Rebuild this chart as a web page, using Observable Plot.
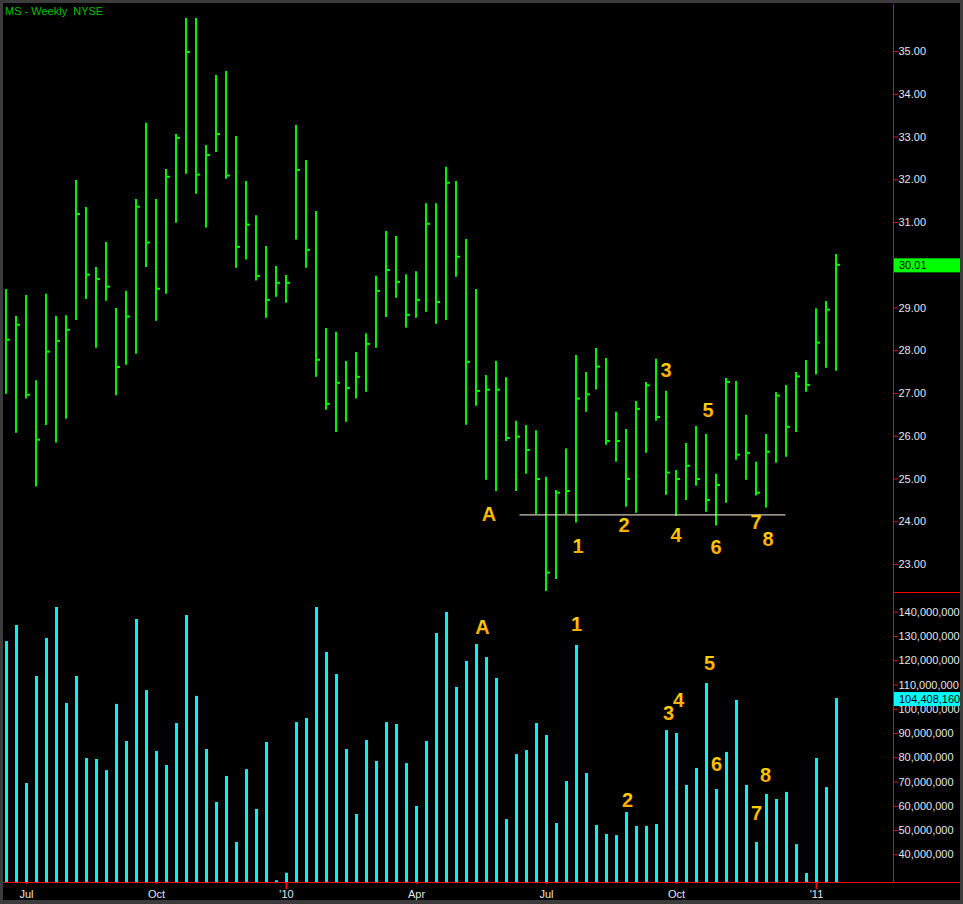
<!DOCTYPE html>
<html><head><meta charset="utf-8">
<script src="https://cdn.jsdelivr.net/npm/d3@7"></script>
<script src="https://cdn.jsdelivr.net/npm/@observablehq/plot@0.6"></script>
<style>
html,body{margin:0;padding:0;background:#3c3c3c;width:963px;height:904px;overflow:hidden;}
#frame{position:absolute;left:3px;top:3px;width:957px;height:897px;background:#000;}
.abs{position:absolute;left:0;}
#title{position:absolute;left:5px;top:5px;font:11px "Liberation Sans",Arial,sans-serif;color:#00c000;white-space:pre;line-height:13px;}
.line{position:absolute;background:#ff0000;}
</style></head><body>
<div id="frame"></div>
<div id="price" class="abs" style="top:0"></div>
<div id="volume" class="abs" style="top:592px"></div>
<div class="line" style="left:893px;top:4px;width:1px;height:878px"></div>
<div class="line" style="left:893px;top:592px;width:67px;height:1px"></div>
<div class="line" style="left:3px;top:882px;width:957px;height:1px"></div>
<div id="title">MS - Weekly  NYSE</div>
<script>
// ---- weekly OHLC (high / low / close), Jun 2009 – Jan 2011 ----
const highs = [29.43,28.80,29.29,27.30,29.32,28.80,28.82,31.98,31.35,29.95,30.53,28.99,29.39,31.54,33.32,31.54,32.24,33.06,35.77,35.77,
  32.80,34.44,34.53,33.01,31.96,31.16,30.44,29.97,29.76,33.27,32.45,31.26,28.52,28.43,27.75,27.96,28.40,29.74,30.79,30.67,
  29.78,29.85,31.44,31.44,32.29,31.96,30.60,29.43,27.42,27.75,27.37,26.35,26.25,26.13,25.04,24.73,25.70,27.89,27.49,28.05,
  27.82,26.56,26.16,26.81,27.26,27.80,27.05,25.20,25.83,26.23,26.04,25.11,27.35,27.28,26.49,25.39,26.04,27.02,27.19,27.49,
  27.77,28.98,29.15,30.25];
const lows = [26.98,26.07,26.87,24.81,26.25,25.84,26.40,28.71,29.20,28.06,29.16,26.95,27.66,27.92,29.95,28.69,29.32,30.98,32.13,31.66,
  30.87,32.64,32.01,29.93,30.12,29.63,28.76,29.25,29.11,30.59,29.93,27.38,26.61,26.09,26.33,26.87,27.03,28.06,28.78,29.23,
  28.53,28.76,28.90,28.62,28.71,29.72,26.26,26.70,24.97,24.71,25.88,24.71,25.11,24.17,22.37,22.65,24.17,23.97,26.56,27.08,
  25.79,25.39,24.34,24.20,25.60,26.35,24.62,24.13,24.50,24.83,24.22,23.90,24.43,25.44,24.97,24.60,24.32,25.37,25.51,26.09,
  27.03,27.43,27.59,27.52];
const closes = [28.26,28.61,26.97,25.92,27.98,28.23,28.49,31.20,29.78,29.68,29.50,27.62,28.80,31.37,30.53,29.45,32.07,32.98,34.99,32.12,
  32.58,33.07,32.10,30.43,30.95,29.75,29.19,29.59,29.59,32.23,30.36,27.79,26.76,27.25,27.13,27.39,28.16,29.40,29.89,29.61,
  28.84,29.19,30.97,29.14,31.93,30.20,27.74,27.06,27.09,27.09,25.96,25.99,25.68,25.00,22.81,24.68,24.72,26.88,26.98,27.63,
  25.89,25.89,25.00,26.64,27.19,26.45,25.15,25.00,25.31,25.00,24.51,24.86,27.27,25.57,25.61,24.68,25.64,26.95,26.22,27.40,
  27.20,28.19,28.96,30.01];
// weekly volume, millions of shares
const volumes = [127.9,134.5,69.4,113.5,129.2,141.9,102.4,113.5,79.7,79.3,74.7,102.0,86.7,137.0,107.7,82.6,76.8,94.1,138.6,105.3,
  83.4,61.6,72.3,45.1,75.1,58.7,86.3,29.3,32.4,94.5,96.2,141.9,123.4,114.3,83.4,56.6,87.1,78.5,94.5,93.7,
  77.6,59.9,86.7,131.2,139.9,109.0,119.7,126.7,121.3,112.7,54.5,81.3,83.0,94.1,89.2,52.9,70.2,126.3,73.5,52.1,
  48.4,47.9,57.4,51.7,51.7,52.5,91.2,90.0,68.6,75.6,110.6,66.9,82.2,103.6,68.6,45.1,64.9,62.8,65.7,44.2,
  32.3,79.7,67.7,104.40816];

// ---- axes (30.00 sits under the last-price tag, so it is not labelled) ----
const priceTicks = [23,24,25,26,27,28,29,31,32,33,34,35];
const volumeTicks = [40,50,60,70,80,90,100,110,120,130,140];
const monthTickIndex = [2,15,28,41,54,67,81];
const monthTickLabels = ["Jul","Oct","'10","Apr","Jul","Oct","'11"];
const yearTickIndex = [28,81];
const volFloor = 28.58, volCeil = 148.12;

// ---- annotations ----
const noteLabels = ["A","1","2","3","4","5","6","7","8"];
const priceNoteIndex = [48.3,57.2,61.8,66.0,67.0,70.2,71.0,75.0,76.2];
const priceNoteLevel = [24.17,23.42,23.91,27.54,23.68,26.60,23.40,23.98,23.58];
const volumeNoteIndex = [47.6,57.0,62.1,66.2,67.2,70.3,71.0,75.0,75.9];
const volumeNoteLevel = [133.7,134.9,62.4,98.2,103.6,118.9,77.2,57.0,72.7];
const supportPrice = 24.16, supportStart = 51.4, supportEnd = 78.0;

// ---- build tables ----
const bars = highs.map((h, i) => ({i, high: h, low: lows[i], close: closes[i], volume: volumes[i]}));
const priceNotes = noteLabels.map((t, k) => ({label: t, x: priceNoteIndex[k], y: priceNoteLevel[k]}));
const volumeNotes = noteLabels.map((t, k) => ({label: t, x: volumeNoteIndex[k], y: volumeNoteLevel[k]}));

const font = "'Liberation Sans', Arial, sans-serif";
const green = "#00f400", cyan = "#00f4f4", axisText = "#e2e6ee", red = "#ff0000";

const pricePlot = Plot.plot({
  width: 963, height: 592,
  marginLeft: 0, marginRight: 70, marginTop: 3, marginBottom: 0,
  style: {background: "transparent", fontFamily: font, fontSize: "11px", overflow: "visible"},
  x: {domain: [0, 83], range: [5.5, 835.5], axis: null},
  y: {domain: [23, 35], range: [564, 51], label: null},
  marks: [
    Plot.axisY({anchor: "right", ticks: priceTicks, tickFormat: d => d.toFixed(2), tickSize: 4, tickPadding: 1,
      stroke: red, fill: axisText, fontSize: 11, label: null}),
    Plot.ruleX(bars, {x: "i", y1: "low", y2: "high", stroke: green, strokeWidth: 2}),
    Plot.ruleY(bars, {y: "close", x1: d => d.i + 0.15, x2: d => d.i + 0.45, stroke: green, strokeWidth: 2}),
    Plot.ruleY([supportPrice], {y: d => d, x1: () => supportStart, x2: () => supportEnd, stroke: "#fff8e0", strokeWidth: 1}),
    Plot.text(priceNotes, {x: "x", y: "y", text: "label", fill: "url(#noteGradP)", fontSize: 20, fontWeight: "bold",
      textAnchor: "middle", lineAnchor: "middle"})
  ]
});

const volumePlot = Plot.plot({
  width: 963, height: 312,
  marginLeft: 0, marginRight: 70, marginTop: 0, marginBottom: 22,
  style: {background: "transparent", fontFamily: font, fontSize: "11px", overflow: "visible"},
  x: {domain: [0, 83], range: [6, 836]},
  y: {domain: [volFloor, volCeil], range: [290, 0], label: null},
  marks: [
    Plot.axisY({anchor: "right", ticks: volumeTicks, tickFormat: d => d3.format(",")(Math.round(d * 1e6)), tickSize: 4, tickPadding: 1,
      stroke: red, fill: axisText, fontSize: 11, label: null}),
    Plot.axisX({anchor: "bottom", ticks: monthTickIndex, tickFormat: d => monthTickLabels[monthTickIndex.indexOf(d)],
      tickSize: 2, tickPadding: 6, stroke: red, fill: axisText, fontSize: 11, label: null}),
    Plot.axisX({anchor: "bottom", ticks: yearTickIndex, tickFormat: () => "", tickSize: 7, strokeWidth: 2, stroke: red, label: null}),
    Plot.ruleX(bars, {x: "i", y1: () => volFloor, y2: "volume", stroke: cyan, strokeWidth: 3}),
    Plot.text(volumeNotes, {x: "x", y: "y", text: "label", fill: "url(#noteGradV)", fontSize: 20, fontWeight: "bold",
      textAnchor: "middle", lineAnchor: "middle"})
  ]
});

function addGradient(svg, id) {
  const g = d3.select(svg).insert("defs", ":first-child").append("linearGradient")
    .attr("id", id).attr("x1", 0).attr("y1", 0).attr("x2", 0).attr("y2", 1);
  g.append("stop").attr("offset", "0%").attr("stop-color", "#ffe000");
  g.append("stop").attr("offset", "100%").attr("stop-color", "#ff9a00");
}
addGradient(pricePlot, "noteGradP");
addGradient(volumePlot, "noteGradV");

function lastValueTag(svg, yPix, text, bg) {
  const g = d3.select(svg).append("g");
  g.append("rect").attr("x", 894).attr("y", yPix - 6).attr("width", 66).attr("height", 14).attr("fill", bg);
  g.append("text").attr("x", 899).attr("y", yPix + 5).attr("fill", "#000").attr("text-anchor", "start")
    .attr("font-family", font).attr("font-size", 11).text(text);
}
lastValueTag(pricePlot, pricePlot.scale("y").apply(closes[83]), closes[83].toFixed(2), "#00ff00");
lastValueTag(volumePlot, volumePlot.scale("y").apply(volumes[83]), d3.format(",")(Math.round(volumes[83] * 1e6)), "#00ffff");

document.getElementById("price").appendChild(pricePlot);
document.getElementById("volume").appendChild(volumePlot);
</script>
</body></html>
